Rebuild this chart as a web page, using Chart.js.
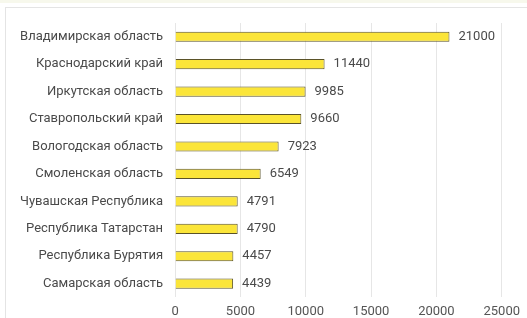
<!DOCTYPE html>
<html><head><meta charset="utf-8">
<script src="https://cdn.jsdelivr.net/npm/chart.js@4/dist/chart.umd.min.js"></script>
<style>
html,body{margin:0;padding:0;background:#fff;}
#wrap{position:relative;width:527px;height:318px;overflow:hidden;}
#frame{position:absolute;left:5px;top:7px;width:600px;height:400px;border:1px solid #e4e4e4;box-sizing:border-box;}
#strip{position:absolute;left:0;top:0;width:527px;height:3px;background:#f7f8ec;}
canvas{position:absolute;left:0;top:0;}
</style></head>
<body><div id="wrap"><div id="strip"></div><div id="frame"></div><canvas id="c" width="527" height="318"></canvas></div>
<script>
const categories = ["Владимирская область","Краснодарский край","Иркутская область","Ставропольский край","Вологодская область","Смоленская область","Чувашская Республика","Республика Татарстан","Республика Бурятия","Самарская область"];
const values = [21000,11440,9985,9660,7923,6549,4791,4790,4457,4439];
const xTicks = [0,5000,10000,15000,20000,25000];

const valueLabels = {
  id:'valueLabels',
  afterDatasetsDraw(chart){
    const {ctx} = chart;
    const meta = chart.getDatasetMeta(0);
    ctx.save();
    ctx.font = '13px Roboto';
    ctx.fillStyle = '#4a4a4a';
    ctx.textBaseline = 'middle';
    ctx.textAlign = 'left';
    meta.data.forEach((bar,i)=>{
      ctx.fillText(String(values[i]), bar.x + 9, bar.y);
    });
    ctx.restore();
  }
};

new Chart(document.getElementById('c'),{
  type:'bar',
  data:{labels:categories,datasets:[{data:values,backgroundColor:'#fbe539',borderColor:'#5a5228',borderWidth:1,barPercentage:0.74,categoryPercentage:0.5}]},
  options:{
    indexAxis:'y',responsive:false,animation:false,
    layout:{padding:{left:8,right:20,top:23,bottom:-9}},
    plugins:{legend:{display:false},tooltip:{enabled:false}},
    scales:{
      x:{min:0,max:25000,
         afterBuildTicks(s){s.ticks=xTicks.map(v=>({value:v}));},
         grid:{color:'#e6e6e6',drawTicks:false},border:{display:false},
         ticks:{font:{family:'Roboto',size:13},color:'#555',padding:7,callback:v=>String(v)}},
      y:{grid:{display:false,drawTicks:false},border:{display:false},
         ticks:{font:{family:'Roboto',size:13},color:'#4a4a4a',padding:12}}
    }
  },
  plugins:[valueLabels]
});
</script></body></html>
